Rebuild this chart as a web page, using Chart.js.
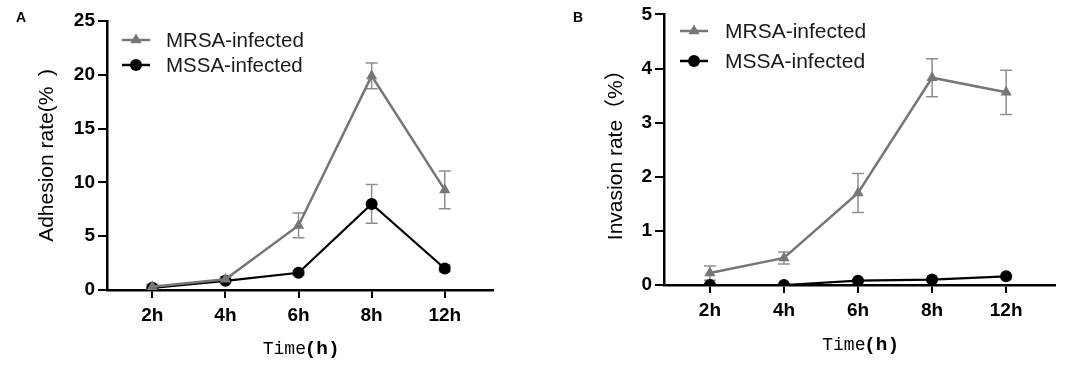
<!DOCTYPE html>
<html>
<head>
<meta charset="utf-8">
<script src="https://cdn.jsdelivr.net/npm/chart.js@4.4.0/dist/chart.umd.min.js"></script>
<style>
  html, body { margin: 0; padding: 0; background: #fff; }
  #wrap { position: relative; width: 1084px; height: 367px; overflow: hidden; }
  .panel { position: absolute; top: 0; height: 367px; }
</style>
</head>
<body>
<div id="wrap">
  <div class="panel" style="left:0;width:540px"><canvas id="chartA" width="540" height="367"></canvas></div>
  <div class="panel" style="left:540px;width:544px"><canvas id="chartB" width="544" height="367"></canvas></div>
</div>
<script>
// data
const timeLabels = ['2h', '4h', '6h', '8h', '12h'];

const adhesionMRSA = [0.3, 1.0, 6.0, 19.9, 9.3];
const adhesionMRSAErr = [0.2, 0.2, 1.15, 1.2, 1.75];
const adhesionMSSA = [0.2, 0.85, 1.6, 8.0, 2.0];
const adhesionMSSAErr = [0.1, 0.1, 0.2, 1.8, 0.3];
const adhesionTicks = [0, 5, 10, 15, 20, 25];

const invasionMRSA = [0.22, 0.5, 1.7, 3.83, 3.56];
const invasionMRSAErr = [0.13, 0.11, 0.36, 0.35, 0.41];
const invasionMSSA = [0, 0, 0.08, 0.1, 0.16];
const invasionMSSAErr = [0, 0, 0.02, 0.02, 0.02];
const invasionTicks = [0, 1, 2, 3, 4, 5];

const seriesNames = ['MRSA-infected', 'MSSA-infected'];

const GREY = '#767676';
const ERR = '#8e8e8e';
const SANS = '"Liberation Sans", Arial, "Noto Sans CJK SC", sans-serif';

function drawMarker(ctx, style, x, y, r, color) {
  ctx.save();
  ctx.fillStyle = color;
  ctx.beginPath();
  if (style === 'triangle') {
    let rad = 0;
    ctx.moveTo(x + Math.sin(rad) * r, y - Math.cos(rad) * r);
    rad += Math.PI * 2 / 3;
    ctx.lineTo(x + Math.sin(rad) * r, y - Math.cos(rad) * r);
    rad += Math.PI * 2 / 3;
    ctx.lineTo(x + Math.sin(rad) * r, y - Math.cos(rad) * r);
    ctx.closePath();
  } else {
    ctx.arc(x, y, r, 0, Math.PI * 2);
  }
  ctx.fill();
  ctx.restore();
}

// error bars, drawn under the markers
const errorBars = {
  id: 'errorBars',
  beforeDatasetsDraw(chart) {
    const ctx = chart.ctx;
    const ys = chart.scales.y;
    ctx.save();
    ctx.strokeStyle = ERR;
    ctx.lineWidth = 1.5;
    chart.data.datasets.forEach((ds, i) => {
      const meta = chart.getDatasetMeta(i);
      meta.data.forEach((pt, j) => {
        const v = ds.data[j].y, e = ds.errors[j];
        if (!e) return;
        const top = ys.getPixelForValue(v + e);
        const bot = ys.getPixelForValue(Math.max(0, v - e));
        ctx.beginPath();
        ctx.moveTo(pt.x, top); ctx.lineTo(pt.x, bot);
        ctx.moveTo(pt.x - 6, top); ctx.lineTo(pt.x + 6, top);
        ctx.moveTo(pt.x - 6, bot); ctx.lineTo(pt.x + 6, bot);
        ctx.stroke();
      });
    });
    ctx.restore();
  }
};

// panel letter, in-plot legend and the mixed-font x title
const decorations = {
  id: 'decorations',
  afterDraw(chart, args, opts) {
    const ctx = chart.ctx;
    ctx.save();
    ctx.fillStyle = '#000';
    ctx.font = 'bold 14px ' + SANS;
    ctx.textBaseline = 'alphabetic';
    ctx.fillText(opts.letter, opts.letterX, 22);

    chart.data.datasets.forEach((ds, i) => {
      const y = opts.legendY[i];
      ctx.strokeStyle = ds.borderColor;
      ctx.lineWidth = 2.5;
      ctx.beginPath();
      ctx.moveTo(opts.legendX, y);
      ctx.lineTo(opts.legendX + 28, y);
      ctx.stroke();
      drawMarker(ctx, ds.pointStyle, opts.legendX + 14, y, ds.pointRadius, ds.pointBackgroundColor);
      ctx.fillStyle = '#1a1a1a';
      ctx.font = opts.legendSize + 'px ' + SANS;
      ctx.textBaseline = 'middle';
      ctx.fillText(ds.label, opts.legendX + opts.textGap, y + 1);
    });

    // Time(h)
    const cx = (chart.chartArea.left + chart.chartArea.right) / 2;
    const y = opts.titleY;
    const parts = [
      { t: 'Time', f: '18px "Liberation Mono", monospace', gap: 1 },
      { t: '(', f: 'bold 19px ' + SANS, gap: 3 },
      { t: 'h', f: 'bold 19px ' + SANS, gap: 3 },
      { t: ')', f: 'bold 19px ' + SANS, gap: 0 }
    ];
    let total = 0;
    parts.forEach(p => { ctx.font = p.f; p.w = ctx.measureText(p.t).width; total += p.w + p.gap; });
    let x = cx - total / 2;
    ctx.fillStyle = '#000';
    ctx.textBaseline = 'middle';
    parts.forEach(p => { ctx.font = p.f; ctx.fillText(p.t, x, y); x += p.w + p.gap; });
    ctx.restore();
  }
};

function makePanel(id, mrsa, mrsaErr, mssa, mssaErr, yTicks, yTitle, geo) {
  const toPts = arr => arr.map((v, i) => ({ x: i, y: v }));
  return new Chart(document.getElementById(id).getContext('2d'), {
    type: 'line',
    data: {
      datasets: [
        {
          label: seriesNames[0],
          data: toPts(mrsa),
          errors: mrsaErr,
          borderColor: GREY,
          borderWidth: 2.5,
          pointStyle: 'triangle',
          pointRadius: 6.5,
          pointBackgroundColor: GREY,
          pointBorderWidth: 0,
          tension: 0
        },
        {
          label: seriesNames[1],
          data: toPts(mssa),
          errors: mssaErr,
          borderColor: '#000',
          borderWidth: 2.2,
          pointStyle: 'circle',
          pointRadius: 6,
          pointBackgroundColor: '#000',
          pointBorderWidth: 0,
          tension: 0
        }
      ]
    },
    options: {
      responsive: false,
      animation: false,
      devicePixelRatio: 1,
      layout: { padding: { left: 0, right: geo.padRight, top: geo.padTop, bottom: 0 } },
      scales: {
        x: {
          type: 'linear',
          min: -0.62,
          max: 4.66,
          afterBuildTicks: s => { s.ticks = timeLabels.map((_, i) => ({ value: i })); },
          afterFit: s => { s.height = geo.xHeight; },
          ticks: {
            callback: v => timeLabels[v],
            autoSkip: false,
            maxRotation: 0,
            color: '#000',
            padding: 6,
            font: { family: SANS, size: 19, weight: 'bold' }
          },
          grid: { drawOnChartArea: false, drawTicks: true, tickLength: 8, color: '#000', lineWidth: 2 },
          border: { color: '#000', width: 2.5 }
        },
        y: {
          min: yTicks[0],
          max: yTicks[yTicks.length - 1],
          afterBuildTicks: s => { s.ticks = yTicks.map(v => ({ value: v })); },
          afterFit: s => { s.width = geo.yWidth; },
          ticks: {
            color: '#000',
            padding: 3,
            font: { family: SANS, size: 19, weight: 'bold' }
          },
          grid: { drawOnChartArea: false, drawTicks: true, tickLength: 9, color: '#000', lineWidth: 2 },
          border: { color: '#000', width: 2.5 },
          title: {
            display: true,
            text: yTitle,
            color: '#000',
            font: { family: SANS, size: 21 },
            padding: { top: geo.yTitlePad, bottom: 0 }
          }
        }
      },
      plugins: {
        legend: { display: false },
        tooltip: { enabled: false },
        decorations: geo.deco
      }
    },
    plugins: [errorBars, decorations]
  });
}

makePanel('chartA', adhesionMRSA, adhesionMRSAErr, adhesionMSSA, adhesionMSSAErr, adhesionTicks,
  'Adhesion rate(%\u2002)', {
    padRight: 47, padTop: 21, xHeight: 77, yWidth: 107, yTitlePad: 35,
    deco: { letter: 'A', letterX: 16, legendX: 122, legendY: [40, 65], textGap: 44, legendSize: 20.5, titleY: 349 }
  });

makePanel('chartB', invasionMRSA, invasionMRSAErr, invasionMSSA, invasionMSSAErr, invasionTicks,
  'Invasion rate（%）', {
    padRight: 29, padTop: 12, xHeight: 82, yWidth: 124, yTitlePad: 64,
    deco: { letter: 'B', letterX: 33, legendX: 140, legendY: [31, 61], textGap: 45, legendSize: 21, titleY: 345 }
  });
</script>
</body>
</html>
